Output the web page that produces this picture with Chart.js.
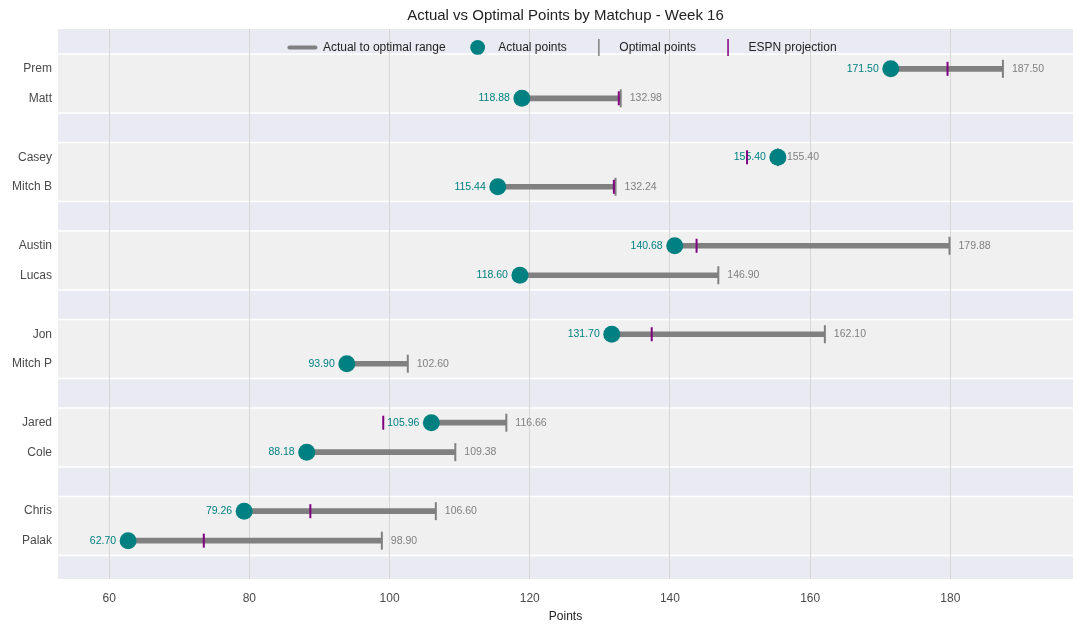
<!DOCTYPE html>
<html><head><meta charset="utf-8">
<script src="https://cdn.jsdelivr.net/npm/chart.js@4.4.0/dist/chart.umd.min.js"></script>
<style>html,body{margin:0;padding:0;background:#fff}</style>
</head><body>
<canvas id="c" width="1084" height="634"></canvas>
<script>
const chartTitle = 'Actual vs Optimal Points by Matchup - Week 16';
const players = ['Prem','Matt','Casey','Mitch B','Austin','Lucas','Jon','Mitch P','Jared','Cole','Chris','Palak'];
const rowPos = [0,1,3,4,6,7,9,10,12,13,15,16];
const actual = [171.50,118.88,155.40,115.44,140.68,118.60,131.70,93.90,105.96,88.18,79.26,62.70];
const optimal = [187.50,132.98,155.40,132.24,179.88,146.90,162.10,102.60,116.66,109.38,106.60,98.90];
const espn = [179.6,132.7,151.0,132.0,143.8,null,137.4,null,99.1,null,88.7,73.5];
const xTicks = [60,80,100,120,140,160,180];
const matchups = [[0,1],[3,4],[6,7],[9,10],[12,13],[15,16]];
const legendLabels = ['Actual to optimal range','Actual points','Optimal points','ESPN projection'];

const TEAL = '#008080', GRAY = '#808080', PURPLE = '#800080';
const FONT = "'Liberation Sans', Arial, sans-serif";
Chart.defaults.font.family = FONT;

const bandsPlugin = {
  id: 'bands',
  beforeDraw(chart) {
    const {ctx, chartArea: a, scales: {y}} = chart;
    ctx.save();
    ctx.fillStyle = '#EAEAF2';
    ctx.fillRect(a.left, a.top, a.width, a.height);
    matchups.forEach(([i, j]) => {
      const t = y.getPixelForValue(i - 0.5), b = y.getPixelForValue(j + 0.5);
      ctx.fillStyle = '#F0F0F0';
      ctx.fillRect(a.left, t, a.width, b - t);
      ctx.strokeStyle = '#ffffff';
      ctx.lineWidth = 1.5;
      ctx.beginPath();
      ctx.moveTo(a.left, t); ctx.lineTo(a.right, t);
      ctx.moveTo(a.left, b); ctx.lineTo(a.right, b);
      ctx.stroke();
    });
    // title centred over the plot area
    ctx.fillStyle = '#222';
    ctx.font = '15px ' + FONT;
    ctx.textAlign = 'center';
    ctx.textBaseline = 'middle';
    ctx.fillText(chartTitle, (a.left + a.right) / 2, 16);
    ctx.restore();
  }
};

const valueLabels = {
  id: 'valueLabels',
  beforeDatasetsDraw(chart) {
    const {ctx, scales: {x, y}} = chart;
    ctx.save();
    ctx.font = '10.5px ' + FONT;
    ctx.textBaseline = 'middle';
    players.forEach((p, k) => {
      const py = y.getPixelForValue(rowPos[k]);
      ctx.fillStyle = TEAL;
      ctx.textAlign = 'right';
      ctx.fillText(actual[k].toFixed(2), x.getPixelForValue(actual[k]) - 12, py);
      ctx.fillStyle = GRAY;
      ctx.textAlign = 'left';
      ctx.fillText(optimal[k].toFixed(2), x.getPixelForValue(optimal[k]) + 9, py);
    });
    ctx.restore();
  }
};

const customLegend = {
  id: 'customLegend',
  afterDraw(chart) {
    const {ctx, chartArea: a} = chart;
    ctx.save();
    ctx.font = '12px ' + FONT;
    ctx.textBaseline = 'middle';
    const box = 28, gap = 6.5, itemGap = 18;
    const widths = legendLabels.map(t => ctx.measureText(t).width);
    const total = widths.reduce((s, w) => s + box + gap + w, 0) + itemGap * (legendLabels.length - 1);
    let cx = (a.left + a.right) / 2 - total / 2 - 3;
    const cy = a.top + 18.4;
    legendLabels.forEach((t, i) => {
      const mid = cx + box / 2;
      if (i === 0) {
        ctx.strokeStyle = GRAY; ctx.lineWidth = 4; ctx.lineCap = 'round';
        ctx.beginPath(); ctx.moveTo(cx + 1, cy); ctx.lineTo(cx + box - 1, cy); ctx.stroke();
      } else if (i === 1) {
        ctx.fillStyle = TEAL;
        ctx.beginPath(); ctx.arc(mid, cy, 7.4, 0, Math.PI * 2); ctx.fill();
      } else {
        ctx.strokeStyle = i === 2 ? GRAY : PURPLE; ctx.lineWidth = 1.5; ctx.lineCap = 'butt';
        ctx.beginPath(); ctx.moveTo(mid, cy - 8.5); ctx.lineTo(mid, cy + 8.5); ctx.stroke();
      }
      ctx.fillStyle = '#222';
      ctx.textAlign = 'left';
      ctx.fillText(t, cx + box + gap, cy);
      cx += box + gap + widths[i] + itemGap;
    });
    ctx.restore();
  }
};

const rangeData = players.map((p, k) => ({x: [actual[k], optimal[k]], y: rowPos[k]}));
const actualData = players.map((p, k) => ({x: actual[k], y: rowPos[k]}));
const optimalData = players.map((p, k) => ({x: optimal[k], y: rowPos[k]}));
const espnData = players.map((p, k) => ({x: espn[k], y: rowPos[k]})).filter(d => d.x !== null);

new Chart(document.getElementById('c'), {
  type: 'scatter',
  data: {
    datasets: [
      {type: 'bar', label: legendLabels[0], indexAxis: 'y', data: rangeData, backgroundColor: GRAY,
       borderWidth: 0, barThickness: 5, order: 3},
      {label: legendLabels[2], data: optimalData, pointStyle: 'line', rotation: 90, radius: 9,
       borderColor: GRAY, borderWidth: 2, order: 2},
      {label: legendLabels[3], data: espnData, pointStyle: 'line', rotation: 90, radius: 7,
       borderColor: PURPLE, borderWidth: 2, order: 1},
      {label: legendLabels[1], data: actualData, pointStyle: 'circle', radius: 8.5,
       backgroundColor: TEAL, borderWidth: 0, order: 0}
    ]
  },
  options: {
    responsive: false,
    animation: false,
    events: [],
    layout: {padding: {right: 10, left: 0, top: 29, bottom: 0}},
    plugins: {
      legend: {display: false},
      tooltip: {enabled: false},
      title: {display: false}
    },
    scales: {
      x: {
        type: 'linear', min: 52.7, max: 197.5, offset: false,
        afterBuildTicks: s => { s.ticks = xTicks.map(v => ({value: v})); },
        afterFit: s => { s.height = 55; },
        grid: {color: '#d6d6d6', lineWidth: 1, drawTicks: false, offset: false},
        border: {display: false},
        ticks: {color: '#4a4a4a', font: {size: 12}, padding: 12},
        title: {display: true, text: 'Points', color: '#222', font: {size: 12}, padding: {top: 4, bottom: 10}}
      },
      y: {
        type: 'linear', reverse: true, min: -1.35, max: 17.3, offset: false,
        afterBuildTicks: s => { s.ticks = rowPos.map(v => ({value: v})); },
        afterFit: s => { s.width = 58; },
        grid: {display: false, drawTicks: false, offset: false},
        border: {display: false},
        ticks: {color: '#4a4a4a', font: {size: 12}, padding: 6,
                callback: v => { const k = rowPos.indexOf(v); return k >= 0 ? players[k] : ''; }}
      }
    }
  },
  plugins: [bandsPlugin, valueLabels, customLegend]
});
</script>
</body></html>
